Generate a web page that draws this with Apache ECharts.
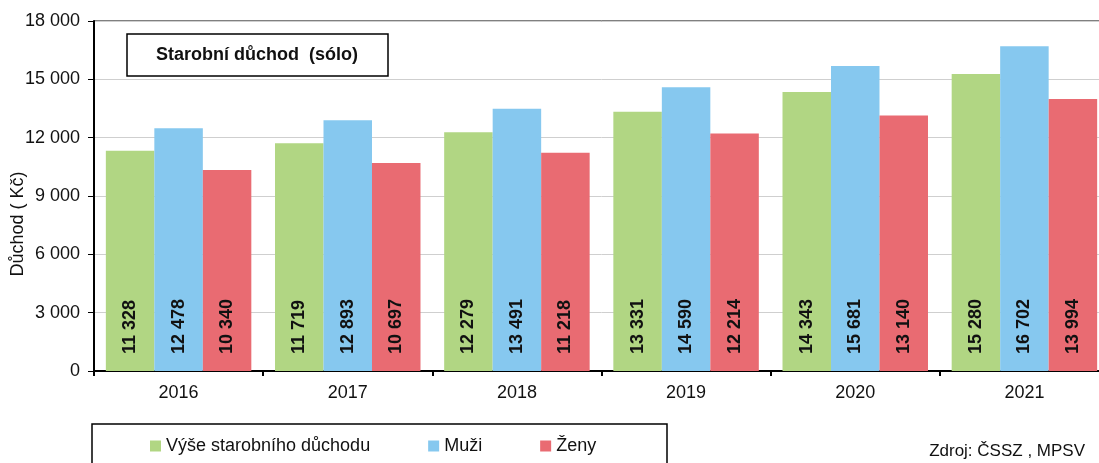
<!DOCTYPE html>
<html>
<head>
<meta charset="utf-8">
<style>
  html, body { margin: 0; padding: 0; background: #fff; overflow: hidden; }
  /* the plot area runs a little past the right edge of the picture */
  #main { width: 1110px; height: 463px; }
</style>
<script src="https://cdn.jsdelivr.net/npm/echarts@6/dist/echarts.min.js"></script>
</head>
<body>
<div id="main"></div>
<script>
// data
var years = ['2016', '2017', '2018', '2019', '2020', '2021']
var vyse = [11328, 11719, 12279, 13331, 14343, 15280]
var muzi = [12478, 12893, 13491, 14590, 15681, 16702]
var zeny = [10340, 10697, 11218, 12214, 13140, 13994]
var seriesNames = ['Výše starobního důchodu', 'Muži', 'Ženy']
var colors = ['#b1d683', '#86c8ef', '#e96b72']

var font = 'Liberation Sans, Arial, sans-serif'

function fmt(v) {
  return String(v).replace(/\B(?=(\d{3})+(?!\d))/g, ' ')
}

function barSeries(name, data, color) {
  return {
    name: name,
    type: 'bar',
    data: data,
    barGap: 0,
    barCategoryGap: '14%',
    itemStyle: { color: color },
    label: {
      show: true,
      position: 'insideBottom',
      rotate: 90,
      align: 'left',
      verticalAlign: 'middle',
      distance: 17,
      color: '#111',
      fontFamily: font,
      fontWeight: 'bold',
      fontSize: 18,
      formatter: function (p) { return fmt(p.value) }
    }
  }
}

var myChart = echarts.init(document.getElementById('main'))
var option = {
  animation: false,
  textStyle: { fontFamily: font },
  grid: {
    left: 94,
    top: 21,
    right: 1,
    bottom: 92,
    show: true,
    borderColor: '#000',
    borderWidth: 1
  },
  legend: {
    left: 150,
    top: 437,
    padding: 0,
    itemWidth: 11,
    itemHeight: 11,
    itemGap: 58,
    icon: 'rect',
    textStyle: { fontFamily: font, fontSize: 18, color: '#111' },
    data: seriesNames
  },
  xAxis: {
    type: 'category',
    data: years,
    axisLine: { lineStyle: { color: '#000', width: 2 } },
    axisTick: { show: true, length: 5, lineStyle: { color: '#000', width: 2 } },
    axisLabel: { color: '#111', fontSize: 18, margin: 13, fontFamily: font }
  },
  yAxis: {
    type: 'value',
    min: 0,
    max: 18000,
    interval: 3000,
    axisLine: { show: true, lineStyle: { color: '#000', width: 2 } },
    axisTick: { show: true, length: 6, lineStyle: { color: '#000' } },
    axisLabel: {
      color: '#111',
      fontSize: 18,
      margin: 14,
      fontFamily: font,
      formatter: function (v) { return fmt(v) }
    },
    splitLine: { lineStyle: { color: '#cfcfcf', width: 1 } }
  },
  graphic: [
    {
      type: 'rect',
      shape: { x: 127, y: 34, width: 261, height: 42 },
      style: { fill: '#fff', stroke: '#000', lineWidth: 1.5 },
      z: 10
    },
    {
      type: 'text',
      x: 257,
      y: 55,
      style: {
        text: 'Starobní důchod  (sólo)',
        font: 'bold 18px ' + font,
        fill: '#111',
        align: 'center',
        verticalAlign: 'middle'
      },
      z: 11
    },
    {
      type: 'text',
      x: 18,
      y: 224,
      rotation: Math.PI / 2,
      style: {
        text: 'Důchod ( Kč)',
        font: '18px ' + font,
        fill: '#111',
        align: 'center',
        verticalAlign: 'middle'
      }
    },
    {
      type: 'rect',
      shape: { x: 92, y: 424, width: 575, height: 60 },
      style: { fill: 'none', stroke: '#000', lineWidth: 1.5 },
      z: 0
    },
    {
      type: 'text',
      x: 1085,
      y: 451,
      style: {
        text: 'Zdroj: ČSSZ , MPSV',
        font: '17px ' + font,
        fill: '#111',
        align: 'right',
        verticalAlign: 'middle'
      }
    }
  ],
  series: [
    barSeries(seriesNames[0], vyse, colors[0]),
    barSeries(seriesNames[1], muzi, colors[1]),
    barSeries(seriesNames[2], zeny, colors[2])
  ]
}
myChart.setOption(option)
</script>
</body>
</html>
